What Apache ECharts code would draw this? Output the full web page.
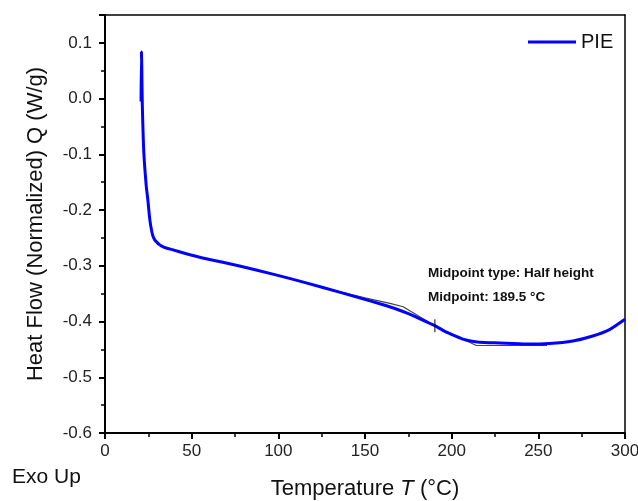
<!DOCTYPE html>
<html>
<head>
<meta charset="utf-8">
<script src="https://cdn.jsdelivr.net/npm/echarts@6/dist/echarts.min.js"></script>
<style>
  html, body { margin: 0; padding: 0; background: #fff; }
  #main { width: 638px; height: 501px; }
</style>
</head>
<body>
<div id="main"></div>
<script>
// DSC curve, PIE sample
var tempC = [20.8, 21.0, 21.2, 21.5, 22.4, 23.8, 24.7, 25.7, 26.6, 27.6, 28.6, 30, 31.4, 33, 35.3, 40, 44.9, 58.4, 68, 87.2, 106.4, 125.7, 146.8, 160, 168, 175, 182, 190.3, 196, 202.6, 207, 211, 216, 227.6, 243, 256.4, 269.9, 281.4, 291.1, 300]
var heatFlow = [-0.005, 0.084, 0.06, -0.007, -0.097, -0.157, -0.181, -0.213, -0.232, -0.246, -0.253, -0.258, -0.262, -0.265, -0.268, -0.272, -0.2767, -0.2875, -0.2935, -0.3075, -0.3225, -0.339, -0.3575, -0.3695, -0.3775, -0.386, -0.3955, -0.4075, -0.4175, -0.4265, -0.432, -0.435, -0.437, -0.4385, -0.4405, -0.4395, -0.435, -0.426, -0.4144, -0.396]

// glass transition helper line (half height)
var tgX = [125, 150, 165, 172, 190.3, 214.2, 255]
var tgY = [-0.3385, -0.3575, -0.368, -0.3735, -0.4075, -0.443, -0.443]
var midX = [190.3]
var midY = [-0.4075]

var xTicks = [0, 50, 100, 150, 200, 250, 300]
var yTicks = [-0.6, -0.5, -0.4, -0.3, -0.2, -0.1, 0.0, 0.1]

function zip(a, b) {
    var out = []
    for (var i = 0; i < a.length; i++) {
        out.push([a[i], b[i]])
    }
    return out
}

var font = '"Liberation Sans", Arial, sans-serif'
var myChart = echarts.init(document.getElementById('main'), null, {renderer: 'canvas'})

var option = {
    animation: false,
    textStyle: {fontFamily: font},
    grid: {left: 105, right: 13, top: 15, bottom: 68, containLabel: false, outerBoundsMode: 'none'},
    legend: {
        data: ['PIE'],
        left: 523,
        top: 27,
        icon: 'rect',
        itemWidth: 48,
        itemHeight: 3,
        itemGap: 6,
        textStyle: {fontSize: 20, color: '#111', fontFamily: font}
    },
    xAxis: [{
        type: 'value',
        min: xTicks[0],
        max: xTicks[xTicks.length - 1],
        interval: 50,
        name: '{a|Temperature }{i|T}{a| (°C)}',
        nameLocation: 'middle',
        nameGap: 45,
        nameTextStyle: {
            rich: {
                a: {fontSize: 22, color: '#111', fontFamily: font},
                i: {fontSize: 22, color: '#111', fontStyle: 'italic', fontFamily: font}
            }
        },
        axisLine: {show: true, onZero: false, lineStyle: {color: '#000', width: 2}},
        axisTick: {show: true, inside: false, length: 6, lineStyle: {color: '#000', width: 2}},
        minorTick: {show: true, splitNumber: 2, length: 4, lineStyle: {color: '#000', width: 1.5}},
        axisLabel: {fontSize: 17, color: '#222', margin: 10},
        splitLine: {show: false}
    }, {
        // top border
        type: 'value', position: 'top', min: 0, max: 300,
        axisLine: {show: true, onZero: false, lineStyle: {color: '#000', width: 1.5}},
        axisTick: {show: false}, axisLabel: {show: false}, splitLine: {show: false}
    }],
    yAxis: [{
        type: 'value',
        min: yTicks[0],
        max: 0.15,
        interval: 0.1,
        name: 'Heat Flow (Normalized) Q (W/g)',
        nameLocation: 'middle',
        nameGap: 58,
        nameTextStyle: {fontSize: 22, color: '#111', fontFamily: font},
        axisLine: {show: true, onZero: false, lineStyle: {color: '#000', width: 2}},
        axisTick: {show: true, inside: false, length: 6, lineStyle: {color: '#000', width: 2}},
        minorTick: {show: true, splitNumber: 2, length: 4, lineStyle: {color: '#000', width: 1.5}},
        axisLabel: {
            fontSize: 17, color: '#222', margin: 13, showMaxLabel: false,
            formatter: function (v) { return v.toFixed(1) }
        },
        splitLine: {show: false}
    }, {
        // right border
        type: 'value', position: 'right', min: -0.6, max: 0.15,
        axisLine: {show: true, onZero: false, lineStyle: {color: '#000', width: 1.5}},
        axisTick: {show: false}, axisLabel: {show: false}, splitLine: {show: false}
    }],
    series: [{
        name: 'PIE',
        type: 'line',
        data: zip(tempC, heatFlow),
        showSymbol: false,
        symbol: 'none',
        smooth: 0.2,
        lineStyle: {color: '#0000ff', width: 3},
        itemStyle: {color: '#0000ff'},
        z: 3
    }, {
        name: 'tg',
        type: 'line',
        data: zip(tgX, tgY),
        symbol: 'none',
        lineStyle: {color: '#444', width: 1.2},
        z: 2
    }, {
        name: 'mid',
        type: 'scatter',
        data: zip(midX, midY),
        symbol: 'rect',
        symbolSize: [1.2, 13],
        itemStyle: {color: '#000'},
        z: 4
    }],
    graphic: [{
        type: 'text', left: 12, top: 467,
        style: {text: 'Exo Up', fontSize: 21, fill: '#111', fontFamily: font}
    }, {
        type: 'text', left: 428, top: 266,
        style: {text: 'Midpoint type: Half height', fontSize: 13.5, fontWeight: 'bold', fill: '#111', fontFamily: font}
    }, {
        type: 'text', left: 428, top: 290,
        style: {text: 'Midpoint: 189.5 °C', fontSize: 13.5, fontWeight: 'bold', fill: '#111', fontFamily: font}
    }]
}

myChart.setOption(option)
</script>
</body>
</html>
